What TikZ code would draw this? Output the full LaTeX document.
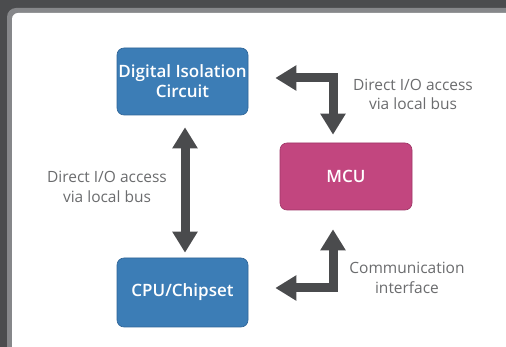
\documentclass[tikz,border=0pt]{standalone}
\usepackage{fontspec}
\setmainfont{Open Sans}
\IfFontExistsTF{Open Sans SemiBold}
  {\newfontfamily\unitfont{Open Sans SemiBold}}
  {\IfFontExistsTF{Open Sans Semibold}
    {\newfontfamily\unitfont{Open Sans Semibold}}
    {\newcommand\unitfont{\bfseries}}}
\usetikzlibrary{arrows.meta}
\definecolor{pagegray}{HTML}{4B4C4E}
\definecolor{rimgray}{HTML}{86878A}
\definecolor{isoblue}{HTML}{3C7DB6}
\definecolor{isoedge}{HTML}{2F6497}
\definecolor{mcupink}{HTML}{C2467F}
\definecolor{mcuedge}{HTML}{9E3566}
\definecolor{arrowgray}{HTML}{4A4B4D}
\definecolor{notegray}{HTML}{6B6C6E}
\begin{document}
\begin{tikzpicture}[x=1pt, y=-1pt,
    unit/.style={rectangle, rounded corners=7pt, minimum width=131pt, minimum height=67pt,
      inner sep=0pt, text=white, align=center, line width=0.6pt,
      font=\fontsize{17}{20}\selectfont\unitfont},
    bus/.style={line width=9pt, draw=arrowgray,
      {Triangle[length=21pt,width=24pt]}-{Triangle[length=21pt,width=24pt]}},
    note/.style={text=notegray, align=center, font=\fontsize{15.5}{19.5}\selectfont}]
  \useasboundingbox (0,0) rectangle (506,347);
  \clip (0,0) rectangle (506,347);
  % backdrop and white panel
  \fill[pagegray] (0,0) rectangle (506,347);
  \fill[rimgray, rounded corners=9pt] (7,8) rectangle (530,370);
  \fill[white, rounded corners=6pt] (12,13) rectangle (530,370);

  % the three units
  \node[unit, fill=isoblue, draw=isoedge] (iso) at (182.5,81.5) {Digital Isolation\\Circuit};
  \node[unit, fill=mcupink, draw=mcuedge, minimum width=132pt] (mcu) at (346,176.5) {MCU};
  \node[unit, fill=isoblue, draw=isoedge, minimum height=69pt] (cpu) at (182.5,292.5) {CPU/Chipset};

  % buses
  \draw[bus, shorten <=27pt, shorten >=8pt] ([yshift=3.5pt]iso.east) -| ([xshift=-13pt]mcu.north);
  \draw[bus, shorten <=12pt, shorten >=5pt] ([xshift=2.5pt]iso.south) -- ([xshift=2.5pt]cpu.north);
  \draw[bus, shorten <=27pt, shorten >=19pt] ([yshift=4.5pt]cpu.east) -| ([xshift=-13pt]mcu.south);

  % labels
  \node[note] (toplabel) at (413,94.5) {Direct I/O access\\via local bus};
  \node[note] (leftlabel) at (107,187) {Direct I/O access\\via local bus};
  \node[note] (botlabel) at (407,278) {Communication\\interface};
\end{tikzpicture}
\end{document}
